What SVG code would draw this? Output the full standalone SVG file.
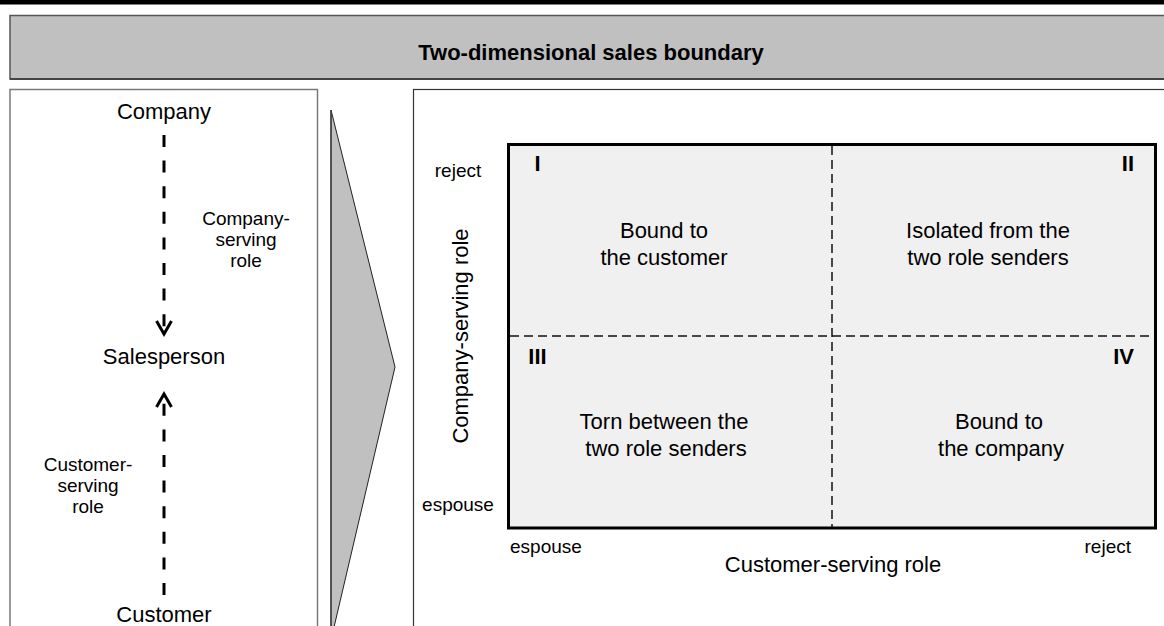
<svg xmlns="http://www.w3.org/2000/svg" width="1164" height="626" viewBox="0 0 1164 626">
<style>
text{font-family:"Liberation Sans",Arial,sans-serif;fill:#000}
.big{font-size:22px}
.sm{font-size:19px}
.num{font-size:22px;font-weight:bold}
.panel{fill:#fff;stroke:#7a7a7a;stroke-width:1.5}
.conn{stroke:#000;stroke-width:3;fill:none;stroke-dasharray:12 13.6}
.grid{stroke:#111;stroke-width:1.5;stroke-dasharray:9 5;fill:none}
</style>
<defs>
<marker id="chev" markerUnits="userSpaceOnUse" viewBox="0 0 20 20" refX="14" refY="10" markerWidth="20" markerHeight="20" orient="auto">
<path d="M1,2.5 L14,10 L1,17.5" fill="none" stroke="#000" stroke-width="3"/>
</marker>
</defs>
<rect x="0" y="0" width="1164" height="626" fill="#fff"/>
<rect x="0" y="0" width="1164" height="4.5" fill="#000"/>
<g id="header">
<rect x="10" y="15.5" width="1170" height="63.5" fill="#c0c0c0" stroke="#555" stroke-width="1.5"/>
<line x1="10" y1="79" x2="1164" y2="79" stroke="#444" stroke-width="2"/>
<text x="591" y="59.5" text-anchor="middle" style="font-size:22px;font-weight:bold">Two-dimensional sales boundary</text>
</g>
<g id="left-panel">
<rect class="panel" x="10" y="89.5" width="307.5" height="560"/>
</g>
<g id="company"><text class="big" x="164" y="119" text-anchor="middle">Company</text></g>
<g id="salesperson"><text class="big" x="164" y="364" text-anchor="middle">Salesperson</text></g>
<g id="customer"><text class="big" x="164" y="622" text-anchor="middle">Customer</text></g>
<g id="connectors">
<path class="conn" d="M164,135 L164,334" marker-end="url(#chev)"/>
<path class="conn" d="M164,595 L164,394" marker-end="url(#chev)"/>
</g>
<g id="company-serving-label">
<text class="sm" text-anchor="middle"><tspan x="246" y="225">Company-</tspan><tspan x="246" y="246">serving</tspan><tspan x="246" y="267">role</tspan></text>
</g>
<g id="customer-serving-label">
<text class="sm" text-anchor="middle"><tspan x="88" y="471">Customer-</tspan><tspan x="88" y="492">serving</tspan><tspan x="88" y="513">role</tspan></text>
</g>
<g id="transition-arrow">
<polygon points="331,110 395,367 331,640" fill="#c0c0c0" stroke="#222" stroke-width="1"/>
<line x1="331" y1="110" x2="331" y2="626" stroke="#444" stroke-width="1.5"/>
</g>
<g id="right-panel">
<rect x="413.5" y="89.5" width="760" height="560" fill="#fff" stroke="#333" stroke-width="1.2"/>
</g>
<g id="matrix">
<rect x="508.5" y="144.5" width="647" height="383.5" fill="#f0f0f0" stroke="#000" stroke-width="3"/>
<line class="grid" x1="832" y1="146" x2="832" y2="527"/>
<line class="grid" x1="510" y1="336" x2="1154" y2="336"/>
</g>
<g id="q1">
<text class="num" x="537.5" y="171" text-anchor="middle">I</text>
<text class="big" text-anchor="middle"><tspan x="664" y="238">Bound to</tspan><tspan x="664" y="265">the customer</tspan></text>
</g>
<g id="q2">
<text class="num" x="1134" y="171" text-anchor="end">II</text>
<text class="big" text-anchor="middle"><tspan x="988" y="238">Isolated from the</tspan><tspan x="988" y="265">two role senders</tspan></text>
</g>
<g id="q3">
<text class="num" x="537.5" y="364" text-anchor="middle">III</text>
<text class="big" text-anchor="middle"><tspan x="664" y="429">Torn between the</tspan><tspan x="666" y="456">two role senders</tspan></text>
</g>
<g id="q4">
<text class="num" x="1134" y="364" text-anchor="end">IV</text>
<text class="big" text-anchor="middle"><tspan x="999" y="429">Bound to</tspan><tspan x="1001" y="456">the company</tspan></text>
</g>
<g id="axes">
<text class="sm" x="458" y="177" text-anchor="middle">reject</text>
<text class="sm" x="458" y="511" text-anchor="middle">espouse</text>
<text class="sm" x="510" y="553">espouse</text>
<text class="sm" x="1131" y="553" text-anchor="end">reject</text>
<text class="big" x="833" y="572" text-anchor="middle">Customer-serving role</text>
<text class="big" transform="translate(468,336) rotate(-90)" text-anchor="middle">Company-serving role</text>
</g>
</svg>
